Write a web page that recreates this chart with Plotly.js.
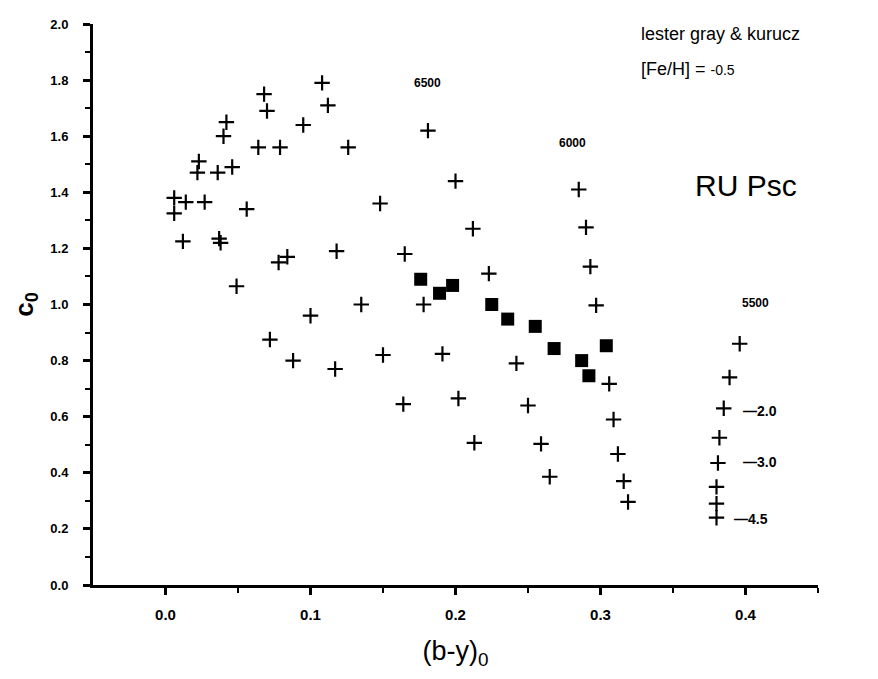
<!DOCTYPE html>
<html><head><meta charset="utf-8">
<script src="https://cdn.plot.ly/plotly-3.0.1.min.js"></script>
<style>html,body{margin:0;padding:0;background:#fff}</style>
</head><body><div id="chart" style="width:878px;height:679px"></div>
<script>
// Model grid points (plus signs)
const gridX = [0.108,0.068,0.112,0.070,0.042,0.095,0.181,0.040,0.064,0.079,0.126,0.023,0.022,0.036,0.046,
  0.006,0.006,0.014,0.027,0.056,0.148,0.012,0.037,0.038,0.078,0.084,0.118,0.165,0.049,0.135,0.178,0.100,
  0.072,0.088,0.117,0.150,0.164,0.200,0.285,0.212,0.290,0.293,0.223,0.297,0.191,0.242,0.306,
  0.396,0.389,0.385,0.202,0.250,0.309,0.213,0.259,0.382,0.312,0.381,0.265,0.316,0.380,0.319,0.380,0.380];
const gridY = [1.79,1.75,1.71,1.69,1.65,1.64,1.62,1.60,1.56,1.56,1.56,1.51,1.47,1.47,1.49,
  1.38,1.325,1.365,1.365,1.34,1.36,1.225,1.235,1.22,1.15,1.17,1.19,1.18,1.065,1.00,1.00,0.96,
  0.875,0.80,0.77,0.82,0.645,1.44,1.41,1.27,1.275,1.135,1.11,0.997,0.824,0.79,0.717,
  0.86,0.74,0.63,0.665,0.64,0.59,0.507,0.503,0.525,0.467,0.435,0.386,0.37,0.35,0.296,0.29,0.24];
// RU Psc observations (filled squares)
const obsX = [0.176,0.189,0.198,0.225,0.236,0.255,0.268,0.304,0.287,0.292];
const obsY = [1.09,1.04,1.068,1.00,0.948,0.922,0.843,0.853,0.80,0.746];
// Tick labels
const yTickVals = [0.0,0.2,0.4,0.6,0.8,1.0,1.2,1.4,1.6,1.8,2.0];
const yTickText = ["0.0","0.2","0.4","0.6","0.8","1.0","1.2","1.4","1.6","1.8","2.0"];
const xTickVals = [0.0,0.1,0.2,0.3,0.4];
const xTickText = ["0.0","0.1","0.2","0.3","0.4"];

const FAM = 'Arial, Liberation Sans, sans-serif';
function f(size, weight){ return {family:FAM, size:size, color:'#000', weight:weight||'normal'}; }

const traces = [
  {x:gridX, y:gridY, mode:'markers', type:'scatter',
   marker:{symbol:'cross-thin', size:11, color:'#000', line:{width:2.2,color:'#000'}}},
  {x:obsX, y:obsY, mode:'markers', type:'scatter',
   marker:{symbol:'square', size:13, color:'#000'}}
];
const layout = {
  width:878, height:679, showlegend:false,
  paper_bgcolor:'#fff', plot_bgcolor:'#fff',
  margin:{l:93, r:60, t:24, b:94},
  font:{family:FAM, color:'#000'},
  xaxis:{range:[-0.05,0.45], showgrid:false, zeroline:false, showline:true, linewidth:3, linecolor:'#000',
    ticks:'outside', ticklen:7, tickwidth:3, tickcolor:'#000', ticklabelstandoff:7,
    tickvals:xTickVals, ticktext:xTickText,
    minor:{tickvals:[0.05,0.15,0.25,0.35,0.45], ticks:'outside', ticklen:5, tickwidth:2, tickcolor:'#000'},
    tickfont:f(15,'bold'),
    title:{text:'(b-y)<sub>0</sub>', font:f(27), standoff:20}},
  yaxis:{range:[0,2.0], showgrid:false, zeroline:false, showline:true, linewidth:3, linecolor:'#000',
    ticks:'outside', ticklen:7, tickwidth:3, tickcolor:'#000', ticklabelstandoff:12,
    tickvals:yTickVals, ticktext:yTickText,
    minor:{dtick:0.1, ticks:'outside', ticklen:5, tickwidth:2, tickcolor:'#000'},
    tickfont:f(13,'bold'),
    title:{text:'c<sub>0</sub>', font:f(26,'bold'), standoff:10}},
  annotations:[
    {x:0.181, y:1.79, text:'6500', showarrow:false, font:f(12,'bold'), xanchor:'center'},
    {x:0.281, y:1.575, text:'6000', showarrow:false, font:f(12,'bold'), xanchor:'center'},
    {x:0.407, y:1.004, text:'5500', showarrow:false, font:f(12,'bold'), xanchor:'center'},
    {x:0.3966, y:0.621, text:'—2.0', showarrow:false, font:f(14,'bold'), xanchor:'left'},
    {x:0.3966, y:0.439, text:'—3.0', showarrow:false, font:f(14,'bold'), xanchor:'left'},
    {x:0.391, y:0.236, text:'—4.5', showarrow:false, font:f(14,'bold'), xanchor:'left'},
    {xref:'paper', yref:'paper', x:0.753, y:1.003, yanchor:'top', text:'lester gray &amp; kurucz', showarrow:false,
     xanchor:'left', font:f(18)},
    {xref:'paper', yref:'paper', x:0.753, y:0.942, yanchor:'top', text:'[Fe/H] = <span style="font-size:14px">-0.5</span>', showarrow:false,
     xanchor:'left', font:f(18)},
    {x:0.4005, y:1.425, text:'RU Psc', showarrow:false, xanchor:'center', font:f(30)}
  ]
};
Plotly.newPlot('chart', traces, layout, {displayModeBar:false, staticPlot:true});
</script></body></html>
